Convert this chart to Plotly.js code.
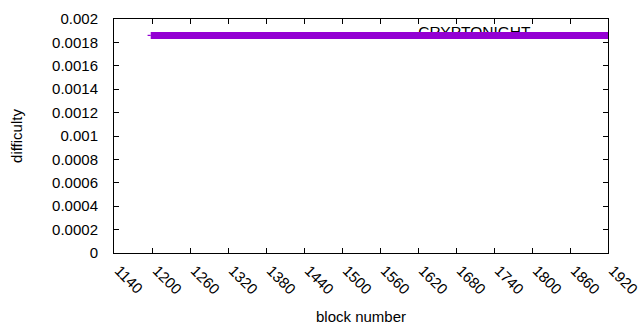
<!DOCTYPE html>
<html>
<head>
<meta charset="utf-8">
<script src="https://cdn.plot.ly/plotly-3.0.1.min.js"></script>
<style>html,body{margin:0;padding:0;background:#fff;}#chart{width:640px;height:330px;}</style>
</head>
<body>
<div id="chart"></div>
<script>
var seriesName = "CRYPTONIGHT";
var blockNumbers = [1198, 1920];
var difficulty = [0.00186, 0.00186];
var stubX = [1193, 1198];
var stubY = [0.00186, 0.00186];
var xTicks = [1140, 1200, 1260, 1320, 1380, 1440, 1500, 1560, 1620, 1680, 1740, 1800, 1860, 1920];
var yTicks = [0, 0.0002, 0.0004, 0.0006, 0.0008, 0.001, 0.0012, 0.0014, 0.0016, 0.0018, 0.002];
var yTickText = ["0", "0.0002", "0.0004", "0.0006", "0.0008", "0.001", "0.0012", "0.0014", "0.0016", "0.0018", "0.002"];
var legendPos = {x: [1709], y: [0.001882]};

var color = "#9400d3";
var font = "Liberation Sans, Arial, sans-serif";

var traces = [
  {x: legendPos.x, y: legendPos.y, mode: "text", text: [seriesName], textposition: "middle center",
   textfont: {family: font, size: 15.5, color: "#000"}, showlegend: false, hoverinfo: "skip"},
  {x: stubX, y: stubY, mode: "lines", line: {color: color, width: 1.2}, showlegend: false},
  {x: blockNumbers, y: difficulty, mode: "lines", name: seriesName, line: {color: color, width: 7}, showlegend: false}
];

var layout = {
  width: 640, height: 330,
  margin: {l: 114, r: 32, t: 19, b: 77},
  paper_bgcolor: "#fff", plot_bgcolor: "#fff",
  font: {family: font, size: 15, color: "#000"},
  showlegend: false,
  xaxis: {
    range: [1140, 1920], tickmode: "array", tickvals: xTicks, ticktext: xTicks.map(String),
    ticks: "inside", ticklen: 5, tickcolor: "#000", tickwidth: 1,
    tickangle: 45, showgrid: false, zeroline: false,
    showline: true, linecolor: "#000", linewidth: 1, mirror: "ticks",
    ticklabelshift: 5, ticklabelstandoff: 2, ticklabeloverflow: "allow",
    tickfont: {family: font, size: 15, color: "#000"},
    title: {text: "block number", font: {family: font, size: 15, color: "#000"}, standoff: 14}
  },
  yaxis: {
    range: [0, 0.002], tickmode: "array", tickvals: yTicks, ticktext: yTickText,
    ticks: "inside", ticklen: 5, tickcolor: "#000", tickwidth: 1,
    showgrid: false, zeroline: false,
    showline: true, linecolor: "#000", linewidth: 1, mirror: "ticks",
    ticklabelstandoff: 12,
    tickfont: {family: font, size: 15, color: "#000"},
    title: {text: "difficulty", font: {family: font, size: 15, color: "#000"}, standoff: 25}
  }
};

Plotly.newPlot("chart", traces, layout, {staticPlot: true, displayModeBar: false});
</script>
</body>
</html>
